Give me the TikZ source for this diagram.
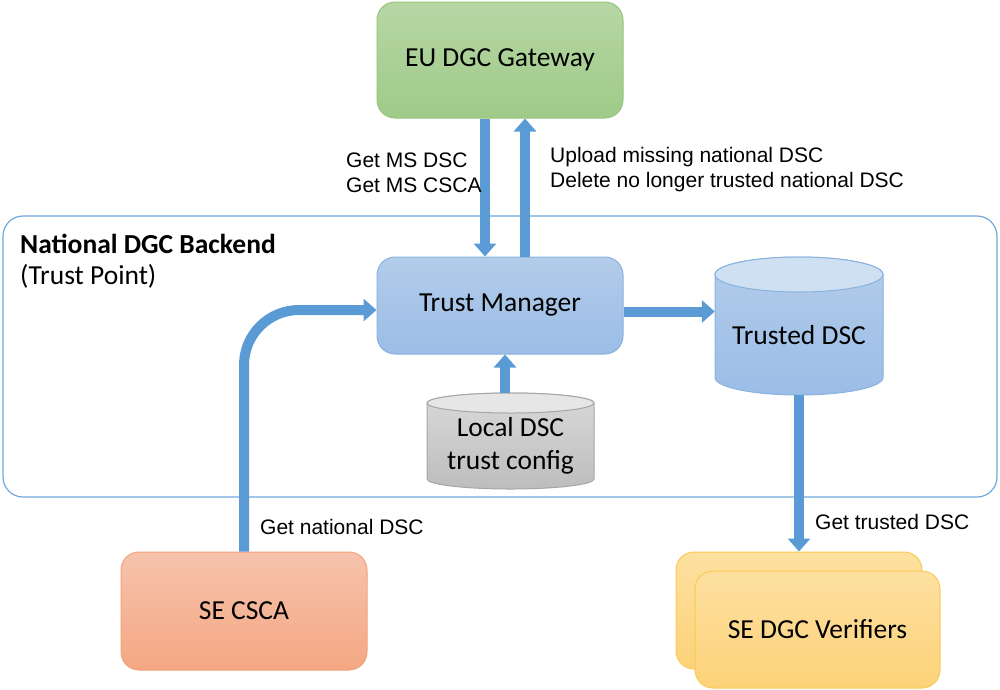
\documentclass[tikz,border=0pt]{standalone}
\usepackage{fontspec}
\setmainfont{Carlito}
\newfontfamily\arialf{Liberation Sans}
\usetikzlibrary{arrows.meta}
\definecolor{arrowblue}{HTML}{5B9BD5}
\definecolor{contblue}{HTML}{6FA8DC}
\definecolor{gwtop}{HTML}{B7D7A5}
\definecolor{gwbot}{HTML}{9FCA88}
\definecolor{gwline}{HTML}{96C47E}
\definecolor{tmtop}{HTML}{B3CCEA}
\definecolor{tmbot}{HTML}{9BBDE6}
\definecolor{tmline}{HTML}{8AB2DF}
\definecolor{cstop}{HTML}{F6C3AC}
\definecolor{csbot}{HTML}{F4A783}
\definecolor{csline}{HTML}{F1A27C}
\definecolor{vftop}{HTML}{FDE0A0}
\definecolor{vfbot}{HTML}{FDD279}
\definecolor{vfline}{HTML}{F9CB55}
\definecolor{cyltop}{HTML}{CFE0F2}
\definecolor{gytop}{HTML}{E6E6E6}
\definecolor{gybodyt}{HTML}{D9D9D9}
\definecolor{gybodyb}{HTML}{BDBDBD}
\definecolor{gyline}{HTML}{A6A6A6}
\newcommand\bxfont{\fontsize{27.5}{33}\selectfont}
\newcommand\lblfont{\arialf\fontsize{21}{25}\selectfont}
\begin{document}
\begin{tikzpicture}[x=1pt,y=1pt,
  rbox/.style={rounded corners=18pt, line width=1pt, font=\bxfont, align=center},
  bigarrow/.style={draw=arrowblue, line width=10pt, -{Triangle[width=22pt,length=13pt]}},
  lbl/.style={font=\lblfont, inner sep=0pt, anchor=west, align=left},
  ghost/.style={inner sep=0pt, draw=none}]
\useasboundingbox (0,0) rectangle (1000,-689);

% container
\node[draw=contblue, line width=1.2pt, rounded corners=20pt, minimum width=994pt, minimum height=281pt, inner sep=0pt] (backend) at (500,-356.5) {};
\node[font=\bxfont\bfseries, inner sep=0pt, anchor=west] (bktitle) at (20,-244) {National DGC Backend};
\node[font=\bxfont, inner sep=0pt, anchor=west] (bksub) at (20,-276) {(Trust Point)};

% boxes
\node[rbox, draw=gwline, top color=gwtop, bottom color=gwbot, minimum width=246pt, minimum height=116pt] (gw) at (500,-60) {EU DGC Gateway};
\node[rbox, draw=tmline, top color=tmtop, bottom color=tmbot, minimum width=246pt, minimum height=97pt] (tm) at (500,-305.5) {Trust Manager};
\node[rbox, draw=csline, top color=cstop, bottom color=csbot, minimum width=246pt, minimum height=118pt] (csca) at (244,-611) {SE CSCA};
\node[rbox, draw=vfline, top color=vftop, bottom color=vfbot, minimum width=246pt, minimum height=117pt] (vfback) at (799,-610.5) {};
\node[rbox, draw=vfline, top color=vftop, bottom color=vfbot, minimum width=245pt, minimum height=117pt] (vf) at (817.5,-629.5) {SE DGC Verifiers};

% Trusted DSC cylinder
\node[ghost, minimum width=168pt, minimum height=138pt] (tdsc) at (799,-326) {};
\path[draw=tmline, line width=1pt, top color=tmtop, bottom color=tmbot]
  (715,-274.5) -- (715,-377.5) arc[start angle=180, end angle=360, x radius=84pt, y radius=17.5pt]
  -- (883,-274.5) arc[start angle=0, end angle=180, x radius=84pt, y radius=17.5pt] -- cycle;
\path[draw=tmline, line width=1pt, fill=cyltop] (799,-274.5) ellipse[x radius=84pt, y radius=17.5pt];
\node[font=\bxfont, inner sep=0pt] (tdsclbl) at (799,-335) {Trusted DSC};

% Local DSC cylinder
\node[ghost, minimum width=167pt, minimum height=96pt] (ldsc) at (510.5,-441) {};
\path[draw=gyline, line width=1pt, top color=gybodyt, bottom color=gybodyb]
  (427,-403) -- (427,-479) arc[start angle=180, end angle=360, x radius=83.5pt, y radius=10pt]
  -- (594,-403) arc[start angle=0, end angle=180, x radius=83.5pt, y radius=10pt] -- cycle;
\path[draw=gyline, line width=1pt, fill=gytop] (510.5,-403) ellipse[x radius=83.5pt, y radius=10pt];
\node[font=\bxfont, inner sep=0pt, align=center] (ldsclbl) at (510.5,-446) {Local DSC\\trust config};

% arrows
\draw[bigarrow] ([xshift=-15pt]gw.south) -- ([xshift=-15pt]gw.south |- tm.north);
\draw[bigarrow] ([xshift=25pt]tm.north) -- ([xshift=25pt]tm.north |- gw.south);
\draw[bigarrow] ([yshift=-6pt]tm.east) -- ([yshift=-6pt]tm.east -| tdsc.west);
\draw[bigarrow] ([xshift=-5.5pt]ldsc.north) -- ([xshift=-5.5pt]ldsc.north |- tm.south);
\draw[bigarrow] (tdsc.south) -- (vfback.north);
\draw[bigarrow, rounded corners=55pt] (csca.north) |- ([yshift=-4.5pt]tm.west);

% labels
\node[lbl] (l1) at (346,-172.5) {Get MS DSC\\Get MS CSCA};
\node[lbl] (l2) at (550,-169.5) {Upload missing national DSC\\Delete no longer trusted national DSC};
\node[lbl] (l3) at (260,-527) {Get national DSC};
\node[lbl] (l4) at (815,-522) {Get trusted DSC};
\end{tikzpicture}
\end{document}
